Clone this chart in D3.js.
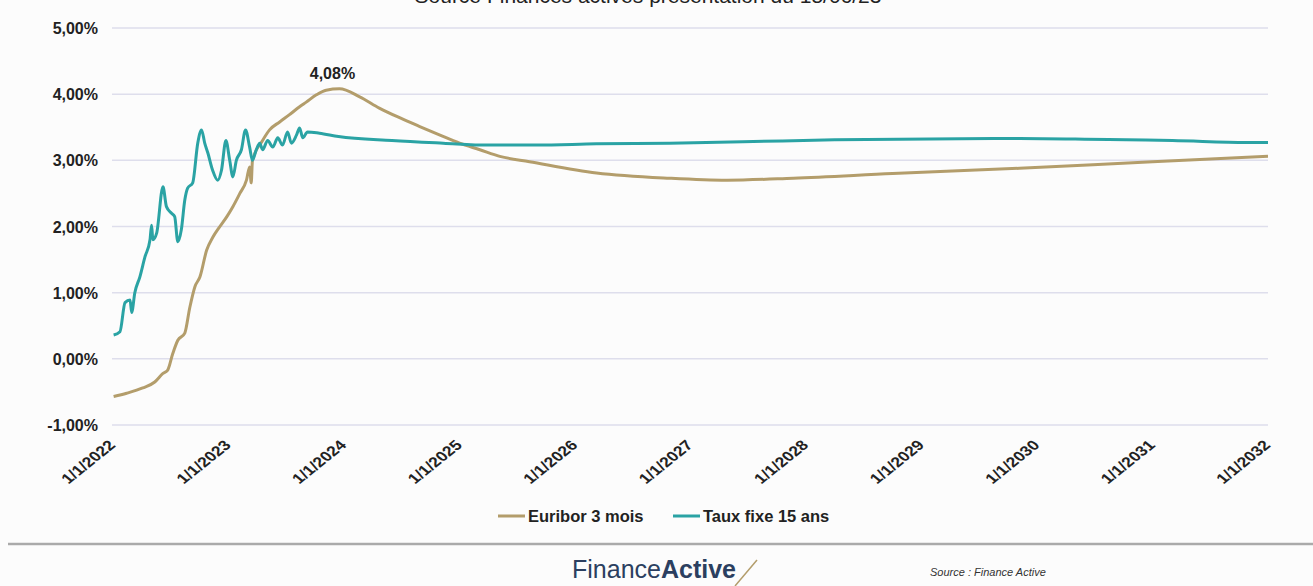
<!DOCTYPE html>
<html>
<head>
<meta charset="utf-8">
<script src="https://cdn.jsdelivr.net/npm/d3@7"></script>
<style>
  body { margin: 0; background: #fcfcfc; }
  svg { display: block; font-family: "Liberation Sans", Arial, sans-serif; }
</style>
</head>
<body>
<svg id="chart" width="1313" height="586"></svg>
<script>
// Euribor 3 mois : historique puis courbe forward
const euriborDates = [
  "2022-01-03", "2022-02-13", "2022-04-05", "2022-05-13", "2022-06-08", "2022-06-23",
  "2022-07-09", "2022-07-25", "2022-08-16", "2022-09-01", "2022-09-17", "2022-10-03",
  "2022-10-24", "2022-11-13", "2022-12-05", "2022-12-27", "2023-01-15", "2023-02-06",
  "2023-02-27", "2023-03-09", "2023-03-14", "2023-03-18", "2023-04-19", "2023-05-11",
  "2023-06-12", "2023-07-13", "2023-08-14", "2023-09-04", "2023-10-06", "2023-11-06",
  "2023-12-18", "2024-02-20", "2024-04-22", "2024-06-27", "2024-08-28", "2024-10-31",
  "2025-01-01", "2025-03-06", "2025-05-08", "2025-08-10", "2026-03-10", "2026-10-27",
  "2027-04-26", "2027-11-22", "2028-10-01", "2029-11-06", "2031-01-01", "2032-01-01"
];
const euriborValues = [
  -0.57, -0.52, -0.44, -0.35, -0.22, -0.17,
  0.08, 0.28, 0.39, 0.78, 1.09, 1.24,
  1.64, 1.84, 2.00, 2.15, 2.30, 2.50,
  2.70, 2.90, 2.66, 3.00, 3.30, 3.46,
  3.58, 3.69, 3.81, 3.88, 3.99, 4.06,
  4.08, 3.96, 3.79, 3.64, 3.51, 3.38,
  3.26, 3.16, 3.06, 2.98, 2.81, 2.73,
  2.70, 2.73, 2.80, 2.88, 2.98, 3.06
];

// Taux fixe 15 ans
const tauxDates = [
  "2022-01-03", "2022-01-23", "2022-02-08", "2022-02-24", "2022-03-01", "2022-03-11",
  "2022-03-27", "2022-04-12", "2022-04-28", "2022-05-03", "2022-05-07", "2022-05-19",
  "2022-06-08", "2022-06-19", "2022-07-05", "2022-07-15", "2022-07-25", "2022-08-05",
  "2022-08-16", "2022-08-25", "2022-09-10", "2022-09-26", "2022-10-08", "2022-10-18",
  "2022-10-28", "2022-11-12", "2022-11-28", "2022-12-10", "2022-12-24", "2023-01-05",
  "2023-01-15", "2023-01-26", "2023-02-11", "2023-02-24", "2023-03-09", "2023-03-18",
  "2023-03-30", "2023-04-10", "2023-04-19", "2023-05-05", "2023-05-21", "2023-06-06",
  "2023-06-21", "2023-07-07", "2023-07-19", "2023-08-04", "2023-08-14", "2023-08-24",
  "2023-09-08", "2023-10-16", "2023-12-15", "2024-06-01", "2024-11-10", "2025-04-01",
  "2025-09-01", "2026-03-10", "2026-10-27", "2027-06-15", "2028-04-01", "2029-11-06",
  "2030-06-01", "2030-10-10", "2031-03-05", "2031-10-25", "2032-01-01"
];
const tauxValues = [
  0.36, 0.41, 0.85, 0.89, 0.70, 1.00,
  1.24, 1.54, 1.80, 2.02, 1.80, 1.90,
  2.60, 2.30, 2.20, 2.15, 1.77, 1.95,
  2.40, 2.58, 2.66, 3.26, 3.46, 3.26,
  3.11, 2.85, 2.70, 2.85, 3.30, 3.00,
  2.75, 3.00, 3.16, 3.46, 3.20, 3.00,
  3.16, 3.26, 3.16, 3.30, 3.20, 3.34,
  3.23, 3.43, 3.26, 3.38, 3.49, 3.34,
  3.43, 3.41, 3.36, 3.30, 3.26, 3.23,
  3.23, 3.25, 3.26, 3.28, 3.31, 3.33,
  3.32, 3.31, 3.30, 3.27, 3.27
];

const yTicks = [-1, 0, 1, 2, 3, 4, 5];
const xTickYears = [2022, 2023, 2024, 2025, 2026, 2027, 2028, 2029, 2030, 2031, 2032];
const seriesNames = ["Euribor 3 mois", "Taux fixe 15 ans"];
const seriesColors = ["#b39d6b", "#2aa3a4"];
const peakLabel = "4,08%";

const svg = d3.select("#chart");
const parse = d3.timeParse("%Y-%m-%d");

// Echelles : la zone de tracé va de 2022 à 2032 et de -1% à 5%
const x = d3.scaleTime()
  .domain([new Date(2022, 0, 1), new Date(2032, 0, 1)])
  .range([113, 1268]);
const y = d3.scaleLinear().domain([-1, 5]).range([425, 28]);

// Titre tronqué en haut (coupé comme sur la capture d'origine)
svg.append("text")
  .attr("x", 648).attr("y", 3)
  .attr("text-anchor", "middle")
  .style("font-size", "21px")
  .style("fill", "#222")
  .text("Source Finances actives présentation du 15/06/23");

// Quadrillage horizontal
svg.append("g").selectAll("line").data(yTicks).enter().append("line")
  .attr("x1", 112).attr("x2", 1268)
  .attr("y1", d => y(d)).attr("y2", d => y(d))
  .attr("stroke", "#dedeec").attr("stroke-width", 1.5);

// Axe des ordonnées
const fmtPct = d => d.toFixed(2).replace(".", ",") + "%";
const yAxis = svg.append("g")
  .attr("transform", "translate(112,0)")
  .call(d3.axisLeft(y).tickValues(yTicks).tickFormat(fmtPct).tickSize(0).tickPadding(14));
yAxis.select(".domain").remove();
yAxis.selectAll("text")
  .style("font-size", "16px").style("font-weight", "bold")
  .style("fill", "#222").attr("dy", "0.35em");

// Axe des abscisses, étiquettes inclinées (légèrement étirées comme l'image source)
const xAxis = svg.append("g")
  .attr("transform", "translate(0,425)")
  .call(d3.axisBottom(x)
    .tickValues(xTickYears.map(yr => new Date(yr, 0, 1)))
    .tickFormat(d => "1/1/" + d.getFullYear())
    .tickSize(0));
xAxis.select(".domain").remove();
xAxis.selectAll("text")
  .attr("x", 0).attr("y", 0).attr("dy", 0)
  .attr("text-anchor", "end")
  .attr("transform", "translate(3,21) scale(1.25,1) rotate(-45)")
  .style("font-size", "14px").style("font-weight", "bold")
  .style("fill", "#222");

// Courbes
const line = d3.line()
  .x(d => x(d.date))
  .y(d => y(d.value))
  .curve(d3.curveMonotoneX);

const euribor = euriborDates.map((d, i) => ({ date: parse(d), value: euriborValues[i] }));
const taux = tauxDates.map((d, i) => ({ date: parse(d), value: tauxValues[i] }));

[euribor, taux].forEach((data, i) => {
  svg.append("path")
    .datum(data)
    .attr("d", line)
    .attr("fill", "none")
    .attr("stroke", seriesColors[i])
    .attr("stroke-width", 3)
    .attr("stroke-linejoin", "round");
});

// Annotation du pic
const peak = euribor.reduce((a, b) => (b.value > a.value ? b : a));
svg.append("text")
  .attr("x", x(peak.date) - 7).attr("y", y(peak.value) - 10)
  .attr("text-anchor", "middle")
  .style("font-size", "16px").style("font-weight", "bold")
  .style("fill", "#222")
  .text(peakLabel);

// Légende
const legendX = [498, 673];
const legend = svg.append("g").selectAll("g").data(seriesNames).enter().append("g")
  .attr("transform", (d, i) => `translate(${legendX[i]},516)`);
legend.append("line")
  .attr("x1", 0).attr("x2", 27)
  .attr("stroke", (d, i) => seriesColors[i]).attr("stroke-width", 3);
legend.append("text")
  .attr("x", 30).attr("dy", "0.35em")
  .style("font-size", "16.5px").style("font-weight", "bold")
  .style("fill", "#222")
  .text(d => d);

// Pied de page
svg.append("line")
  .attr("x1", 8).attr("x2", 1313).attr("y1", 544).attr("y2", 544)
  .attr("stroke", "#aaaaaa").attr("stroke-width", 2.5);

const logo = svg.append("text")
  .attr("x", 572).attr("y", 578)
  .style("font-size", "25px").style("fill", "#2b3f60");
logo.append("tspan").style("font-weight", "300").text("Finance");
logo.append("tspan").style("font-weight", "bold").text("Active");
svg.append("line")
  .attr("x1", 757).attr("y1", 560).attr("x2", 735).attr("y2", 586)
  .attr("stroke", "#b39d6b").attr("stroke-width", 1.5);

svg.append("text")
  .attr("x", 930).attr("y", 576)
  .style("font-size", "11px").style("font-style", "italic")
  .style("fill", "#333")
  .text("Source : Finance Active");
</script>
</body>
</html>
